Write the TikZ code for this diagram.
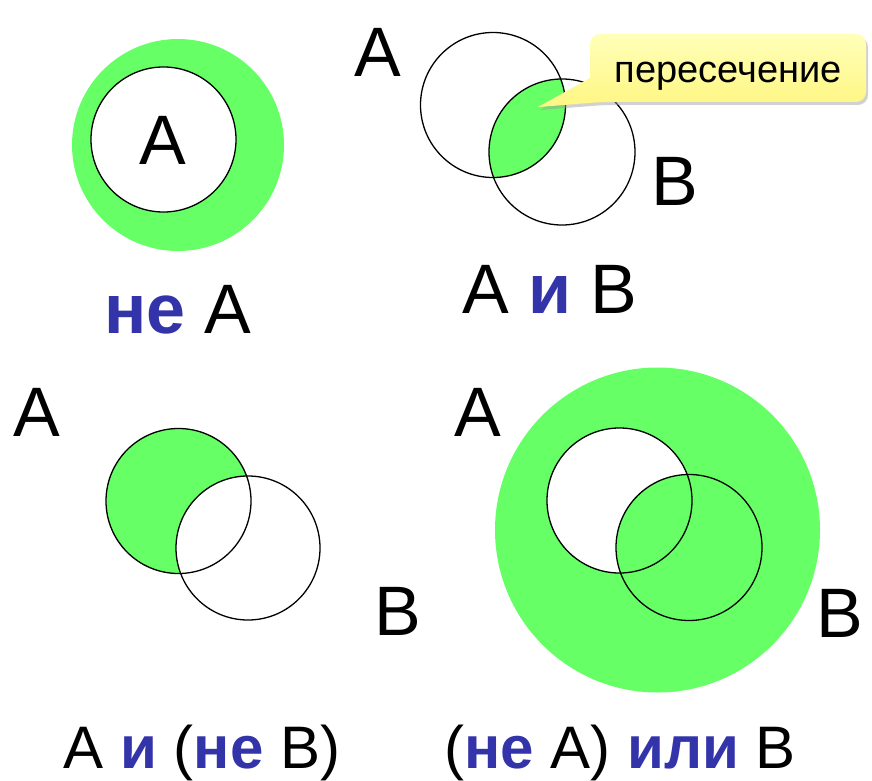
\documentclass[tikz,border=0pt]{standalone}
\usepackage{fontspec}
\setmainfont{Liberation Sans}
\usetikzlibrary{shadows}
\definecolor{vgreen}{RGB}{102,255,102}
\definecolor{vblue}{RGB}{51,51,170}
\definecolor{cytop}{RGB}{255,255,185}
\definecolor{cybot}{RGB}{255,246,130}
\newcommand{\kw}[1]{{\bfseries\color{vblue}#1}}
\begin{document}
\begin{tikzpicture}[x=1pt,y=-1pt,
  biglabel/.style={font=\fontsize{70}{80}\selectfont, inner sep=0pt, anchor=base},
  capbig/.style={font=\fontsize{70}{80}\selectfont, inner sep=0pt, anchor=base},
  capsmall/.style={font=\fontsize{60}{70}\selectfont, inner sep=0pt, anchor=base},
  ring/.style={draw=black, line width=1.3pt},
  calloutbox/.style={top color=cytop, bottom color=cybot,
     drop shadow={shadow xshift=2pt, shadow yshift=-3pt, fill=black!40, opacity=0.45}}]
\useasboundingbox (0,0) rectangle (872,781);

% ---------- top-left: not A ----------
\fill[vgreen] (178,145) circle[radius=106pt];
\draw[ring, fill=white] (163.5,139.5) circle[radius=72.5pt];
\node[biglabel] (tlA) at (163,164) {A};
\node[capbig] (tlcap) at (178,333) {\kw{не} A};

% ---------- top-right: A and B ----------
\begin{scope}
  \clip (493,105) circle[radius=72.5pt];
  \fill[vgreen] (562,152) circle[radius=73pt];
\end{scope}
\draw[ring] (493,105) circle[radius=72.5pt];
\draw[ring] (562,152) circle[radius=73pt];
\node[biglabel] (trA) at (378,77) {A};
\node[biglabel] (trB) at (675,205) {B};
\node[capbig] (trcap) at (550,313) {A \kw{и} B};

% callout
\path[calloutbox] (538,107) -- (590,78) [rounded corners=10pt] -- (590,34) -- (866,34) -- (866,102) -- (602,102) [sharp corners] -- cycle;
\node[font=\fontsize{38}{44}\selectfont, inner sep=0pt, anchor=base] (call) at (728,83) {пересечение};

% ---------- bottom-left: A and (not B) ----------
\fill[vgreen] (178.5,501) circle[radius=72.5pt];
\fill[white] (248,548) circle[radius=72pt];
\draw[ring] (178.5,501) circle[radius=72.5pt];
\draw[ring] (248,548) circle[radius=72pt];
\node[biglabel] (blA) at (37,436) {A};
\node[biglabel] (blB) at (398,635) {B};
\node[capsmall] (blcap) at (202,768) {A \kw{и} (\kw{не} B)};

% ---------- bottom-right: (not A) or B ----------
\fill[vgreen] (657.5,530) circle[radius=162.5pt];
\fill[white] (619.5,500.5) circle[radius=72.5pt];
\fill[vgreen] (689,547.5) circle[radius=73pt];
\draw[ring] (619.5,500.5) circle[radius=72.5pt];
\draw[ring] (689,547.5) circle[radius=73pt];
\node[biglabel] (brA) at (478,436) {A};
\node[biglabel] (brB) at (840,637) {B};
\node[capsmall] (brcap) at (620,768) {(\kw{не} A) \kw{или} B};
\end{tikzpicture}
\end{document}
